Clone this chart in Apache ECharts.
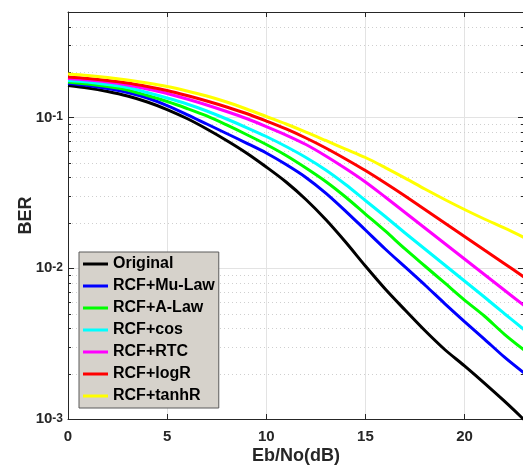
<!DOCTYPE html>
<html>
<head>
<meta charset="utf-8">
<script src="https://cdn.jsdelivr.net/npm/echarts@6/dist/echarts.min.js"></script>
<style>
  html, body { margin: 0; padding: 0; background: #ffffff; }
  #chart { width: 523px; height: 468px; }
</style>
</head>
<body>
<div id="chart"></div>
<script>
// Eb/No sweep in dB
const ebno = [0, 1, 2, 3, 4, 5, 6, 7, 8, 9, 10, 11, 12, 13, 14, 15, 16, 17, 18, 19, 20, 21, 22, 23];

// Bit error rate for each scheme
const original = [0.1628, 0.1567, 0.1485, 0.1386, 0.1265, 0.1128, 0.0983, 0.0838, 0.0703, 0.0581, 0.0469, 0.0373, 0.02856, 0.02104, 0.01492, 0.01034, 0.00728, 0.00528, 0.00386, 0.00289, 0.00225, 0.00173, 0.001317, 0.00099];
const muLaw    = [0.1678, 0.1627, 0.1554, 0.1462, 0.1344, 0.1199, 0.1045, 0.0904, 0.0782, 0.0676, 0.0581, 0.0487, 0.0400, 0.0315, 0.02394, 0.01792, 0.01341, 0.01019, 0.00774, 0.00583, 0.00443, 0.00339, 0.00258, 0.00202];
const aLaw     = [0.1717, 0.1665, 0.1603, 0.1520, 0.1397, 0.1274, 0.1146, 0.1022, 0.0891, 0.0770, 0.0661, 0.0559, 0.0462, 0.0376, 0.02966, 0.02287, 0.01765, 0.01341, 0.01034, 0.00798, 0.00615, 0.00482, 0.00366, 0.00287];
const cosComp  = [0.1757, 0.1717, 0.1652, 0.1579, 0.1462, 0.1344, 0.1227, 0.1103, 0.0976, 0.0857, 0.0747, 0.0641, 0.0542, 0.0448, 0.0359, 0.02812, 0.02203, 0.01712, 0.01341, 0.01050, 0.00822, 0.00644, 0.00501, 0.00392];
const rtc      = [0.1811, 0.1770, 0.1717, 0.1640, 0.1543, 0.1440, 0.1324, 0.1209, 0.1094, 0.0983, 0.0870, 0.0764, 0.0661, 0.0555, 0.0458, 0.0373, 0.02966, 0.02341, 0.01848, 0.01458, 0.01151, 0.00908, 0.00717, 0.00566];
const logR     = [0.1853, 0.1811, 0.1757, 0.1691, 0.1603, 0.1508, 0.1397, 0.1284, 0.1172, 0.1061, 0.0946, 0.0838, 0.0730, 0.0627, 0.0530, 0.0444, 0.0367, 0.0301, 0.02451, 0.01994, 0.01623, 0.01320, 0.01075, 0.00874];
const tanhR    = [0.1940, 0.1896, 0.1839, 0.1770, 0.1691, 0.1603, 0.1497, 0.1386, 0.1265, 0.1137, 0.1014, 0.0904, 0.0800, 0.0703, 0.0617, 0.0542, 0.0465, 0.0396, 0.0335, 0.02856, 0.02451, 0.02120, 0.01848, 0.01598];

const seriesNames  = ['Original', 'RCF+Mu-Law', 'RCF+A-Law', 'RCF+cos', 'RCF+RTC', 'RCF+logR', 'RCF+tanhR'];
const seriesValues = [original, muLaw, aLaw, cosComp, rtc, logR, tanhR];
const seriesColors = ['#000000', '#0000ff', '#00ff00', '#00ffff', '#ff00ff', '#ff0000', '#ffff00'];

// Axis ranges and tick values
const X_MIN = 0, X_MAX = 23;
const Y_MIN = 0.001, Y_MAX = 0.5;
const xTicks = [0, 5, 10, 15, 20];
const yDecades = [0.001, 0.01, 0.1];
const yMinorTicks = [0.002, 0.003, 0.004, 0.005, 0.006, 0.007, 0.008, 0.009,
                     0.02, 0.03, 0.04, 0.05, 0.06, 0.07, 0.08, 0.09,
                     0.2, 0.3, 0.4];

const FONT = '"Liberation Sans", Arial, Helvetica, sans-serif';
const AXIS_COLOR = '#262626';
const GRID_COLOR = '#e3e3e3';

const chart = echarts.init(document.getElementById('chart'), null, { renderer: 'canvas' });

// "10" with a raised exponent, only on whole decades
function decadeLabel(v) {
  const isDecade = yDecades.some(d => Math.abs(d - v) / d < 1e-6);
  if (!isDecade) return '';
  const e = Math.round(Math.log10(v));
  return '{b|10}{s|' + e + '}';
}

const lineSeries = seriesNames.map((name, i) => ({
  name: name,
  type: 'line',
  xAxisIndex: 0,
  yAxisIndex: 0,
  data: ebno.map((x, j) => [x, seriesValues[i][j]]),
  showSymbol: false,
  symbol: 'none',
  smooth: 0.3,
  clip: true,
  z: 3 + i,
  itemStyle: { color: seriesColors[i] },
  lineStyle: { color: seriesColors[i], width: 3 },
  emphasis: { disabled: true }
}));

// dotted minor grid lines plus short inward minor ticks on both vertical edges
const minorGrid = {
  type: 'custom',
  xAxisIndex: 0,
  yAxisIndex: 0,
  silent: true,
  z: 1,
  clip: false,
  data: yMinorTicks.map(v => [X_MIN, v]),
  renderItem: function (params, api) {
    const a = api.coord([X_MIN, api.value(1)]);
    const b = api.coord([X_MAX, api.value(1)]);
    const y = Math.round(a[1]) + 0.5;
    return {
      type: 'group',
      children: [
        { type: 'line', shape: { x1: a[0], y1: y, x2: b[0], y2: y },
          style: { stroke: '#cfcfcf', lineWidth: 1, lineDash: [1, 3] } },
        { type: 'line', shape: { x1: a[0], y1: y, x2: a[0] + 3, y2: y },
          style: { stroke: AXIS_COLOR, lineWidth: 1 } },
        { type: 'line', shape: { x1: b[0] - 3, y1: y, x2: b[0], y2: y },
          style: { stroke: AXIS_COLOR, lineWidth: 1 } }
      ]
    };
  }
};

const option = {
  animation: false,
  backgroundColor: '#ffffff',
  textStyle: { fontFamily: FONT },
  grid: { left: 68, top: 12, width: 456, height: 407, containLabel: false, outerBoundsMode: 'none' },
  legend: {
    data: seriesNames,
    orient: 'vertical',
    left: 79,
    top: 252,
    padding: [4, 4, 4, 4],
    itemGap: 6,
    itemWidth: 25,
    itemHeight: 3,
    icon: 'rect',
    backgroundColor: '#d6d2cb',
    borderColor: '#5a5a5a',
    borderWidth: 1,
    selectedMode: false,
    textStyle: { fontSize: 16, fontWeight: 'bold', color: '#000000', fontFamily: FONT, lineHeight: 16 }
  },
  xAxis: [
    {
      type: 'value',
      min: X_MIN,
      max: X_MAX,
      interval: 5,
      position: 'bottom',
      name: 'Eb/No(dB)',
      nameLocation: 'middle',
      nameGap: 28,
      nameMoveOverlap: false,
      nameTextStyle: { fontSize: 18, fontWeight: 'bold', color: AXIS_COLOR, fontFamily: FONT },
      axisLine: { show: true, onZero: false, lineStyle: { color: AXIS_COLOR, width: 1 } },
      axisTick: { show: true, inside: true, length: 5, lineStyle: { color: AXIS_COLOR } },
      axisLabel: {
        margin: 10,
        fontSize: 15, fontWeight: 'bold', color: AXIS_COLOR, fontFamily: FONT,
        formatter: v => (xTicks.indexOf(v) >= 0 ? String(v) : '')
      },
      splitLine: { show: true, lineStyle: { color: GRID_COLOR, width: 1 } }
    },
    {
      type: 'value',
      min: X_MIN,
      max: X_MAX,
      interval: 5,
      position: 'top',
      axisLine: { show: true, onZero: false, lineStyle: { color: AXIS_COLOR, width: 1 } },
      axisTick: { show: true, inside: true, length: 5, lineStyle: { color: AXIS_COLOR } },
      axisLabel: { show: false },
      splitLine: { show: false }
    }
  ],
  yAxis: [
    {
      type: 'log',
      logBase: 10,
      min: Y_MIN,
      max: Y_MAX,
      position: 'left',
      name: 'BER',
      nameLocation: 'middle',
      nameGap: 33,
      nameRotate: 90,
      nameMoveOverlap: false,
      nameTextStyle: { fontSize: 18, fontWeight: 'bold', color: AXIS_COLOR, fontFamily: FONT },
      axisLine: { show: true, onZero: false, lineStyle: { color: AXIS_COLOR, width: 1 } },
      axisTick: { show: true, inside: true, length: 6, lineStyle: { color: AXIS_COLOR } },
      axisLabel: {
        margin: 5,
        formatter: decadeLabel,
        rich: {
          b: { fontSize: 15, fontWeight: 'bold', color: AXIS_COLOR, fontFamily: FONT,
               lineHeight: 15, padding: [7, 0, 0, 0], verticalAlign: 'bottom' },
          s: { fontSize: 12, fontWeight: 'bold', color: AXIS_COLOR, fontFamily: FONT,
               lineHeight: 12, padding: [1, 0, 0, 0], verticalAlign: 'top' }
        }
      },
      splitLine: { show: true, lineStyle: { color: GRID_COLOR, width: 1 } }
    },
    {
      type: 'log',
      logBase: 10,
      min: Y_MIN,
      max: Y_MAX,
      position: 'right',
      axisLine: { show: true, onZero: false, lineStyle: { color: AXIS_COLOR, width: 1 } },
      axisTick: { show: true, inside: true, length: 6, lineStyle: { color: AXIS_COLOR } },
      axisLabel: { show: false },
      splitLine: { show: false }
    }
  ],
  series: [minorGrid].concat(lineSeries)
};

chart.setOption(option);
</script>
</body>
</html>
